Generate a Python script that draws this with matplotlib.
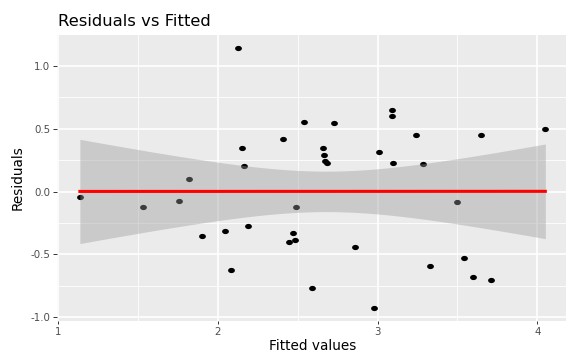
import numpy as np
import matplotlib
matplotlib.use("Agg")
import matplotlib.pyplot as plt
from matplotlib.ticker import FixedLocator

plt.rcParams['font.family'] = ['DejaVu Sans']

# Data
fitted = [1.1375, 1.533, 1.76, 1.819, 1.90, 2.044, 2.083, 2.127, 2.15, 2.167,
          2.19, 2.406, 2.447, 2.47, 2.486, 2.49, 2.54, 2.59, 2.656, 2.667,
          2.669, 2.686, 2.727, 2.86, 2.98, 3.01, 3.0875, 3.0875, 3.094, 3.24,
          3.283, 3.327, 3.50, 3.54, 3.60, 3.646, 3.71, 4.05]
residuals = [-0.042, -0.124, -0.077, 0.099, -0.353, -0.313, -0.626, 1.147, 0.35, 0.207,
             -0.276, 0.417, -0.40, -0.329, -0.387, -0.124, 0.555, -0.767, 0.350, 0.292,
             0.244, 0.231, 0.549, -0.443, -0.929, 0.316, 0.648, 0.600, 0.226, 0.449,
             0.22, -0.594, -0.082, -0.53, -0.68, 0.454, -0.70, 0.502]

x_ticks = [1, 2, 3, 4]
x_tick_labels = ["1", "2", "3", "4"]
y_ticks = [-1.0, -0.5, 0.0, 0.5, 1.0]
y_tick_labels = ["-1.0", "-0.5", "0.0", "0.5", "1.0"]

f = np.array(fitted)
r = np.array(residuals)
n = len(f)

# lm smooth with 95% confidence band
slope, intercept = np.polyfit(f, r, 1)
res = r - (intercept + slope * f)
s = np.sqrt(np.sum(res ** 2) / (n - 2))
xbar = f.mean()
sxx = np.sum((f - xbar) ** 2)
t975 = 2.028  # t quantile, df = 36
xs = np.linspace(f.min(), f.max(), 200)
pred = intercept + slope * xs
se = s * np.sqrt(1.0 / n + (xs - xbar) ** 2 / sxx)

fig = plt.figure(figsize=(5.66, 3.54), dpi=100)
W, H = 566, 354
ax_l, ax_b, ax_w, ax_h = 56.6, 321.4, 512.0, 286.9
ax = fig.add_axes([ax_l / W, (H - ax_b) / H, ax_w / W, ax_h / H])

ax.set_facecolor('#EBEBEB')
for sp in ax.spines.values():
    sp.set_visible(False)

xr = f.max() - f.min()
yr = r.max() - r.min()
ax.set_xlim(f.min() - 0.05 * xr, f.max() + 0.05 * xr)
ax.set_ylim(r.min() - 0.05 * yr, r.max() + 0.05 * yr)

ax.set_xticks(x_ticks)
ax.set_xticklabels(x_tick_labels)
ax.set_yticks(y_ticks)
ax.set_yticklabels(y_tick_labels)
ax.xaxis.set_minor_locator(FixedLocator([1.5, 2.5, 3.5]))
ax.yaxis.set_minor_locator(FixedLocator([-0.75, -0.25, 0.25, 0.75]))
ax.grid(True, which='major', color='white', linewidth=1.2)
ax.grid(True, which='minor', color='white', linewidth=0.6)
ax.set_axisbelow(True)
ax.tick_params(which='minor', length=0)
ax.tick_params(axis='y', which='major', length=3.0, width=0.7, color='#333333',
               labelcolor='#4D4D4D', labelsize=7.4, pad=1.5)
ax.tick_params(axis='x', which='major', length=2.2, width=0.7, color='#333333',
               labelcolor='#4D4D4D', labelsize=7.4, pad=2.0)

# slightly wide elliptical point marker
th = np.linspace(0, 2 * np.pi, 40)
ell = np.column_stack([1.3 * np.cos(th), np.sin(th)])
ax.scatter(f, r, s=24, color='black', marker=ell, zorder=3, linewidths=0)
ax.fill_between(xs, pred - t975 * se, pred + t975 * se, color='#999999',
                alpha=0.4, linewidth=0, zorder=4)
ax.plot(xs, pred, color='#FF0000', linewidth=2.2, zorder=5)

ax.set_xlabel('Fitted values', fontsize=9.8, color='black', va='baseline')
ax.xaxis.set_label_coords(0.5, (ax_b - 350) / ax_h)
ax.set_ylabel('Residuals', fontsize=9.8, color='black', va='center')
ax.yaxis.set_label_coords((17.5 - ax_l) / ax_w, (ax_b - 177.5) / ax_h)
fig.text(57.5 / W, 1 - 26 / H, 'Residuals vs Fitted', fontsize=11.8,
         color='black', ha='left', va='baseline')

fig.savefig('out.png', dpi=100)
